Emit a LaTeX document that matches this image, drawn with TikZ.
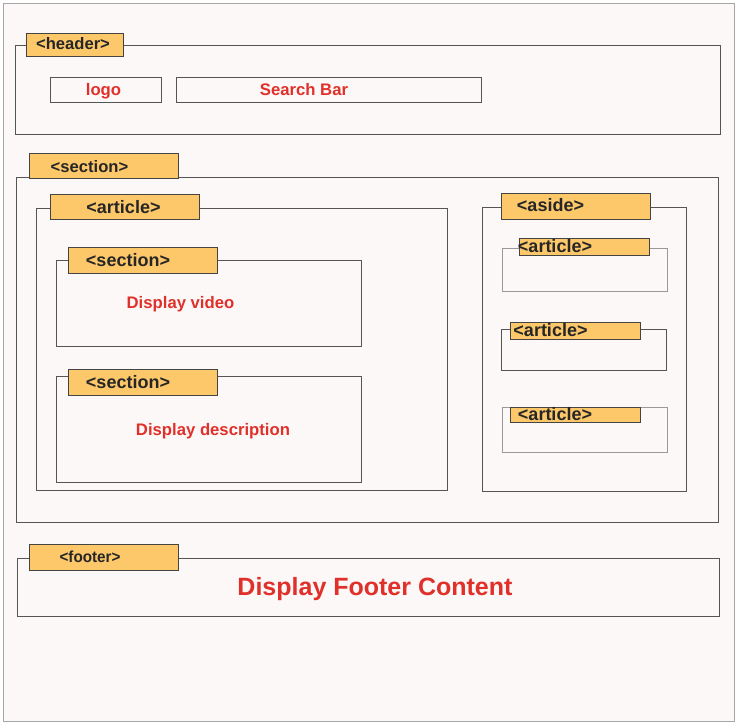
\documentclass[tikz,border=0pt]{standalone}
\usepackage{fontspec}
\setmainfont{Liberation Sans}
\definecolor{bg}{HTML}{FDF8F8}
\definecolor{tabfill}{HTML}{FDC86A}
\definecolor{linegray}{HTML}{555555}
\definecolor{redtxt}{HTML}{E0302A}
\begin{document}
\begin{tikzpicture}[x=1pt,y=-1pt,
  box/.style={draw=linegray, line width=0.9pt, rectangle, inner sep=0pt, anchor=north west},
  tabbox/.style={draw=linegray!80!black, fill=tabfill, line width=0.9pt, rectangle, inner sep=0pt, anchor=north west},
  tag/.style={font=\bfseries\fontsize{18}{20}\selectfont, text=black!85, inner sep=0pt, anchor=base},
  smalltag/.style={font=\bfseries\fontsize{16.6}{19}\selectfont, text=black!85, inner sep=0pt, anchor=base},
  red/.style={font=\bfseries\fontsize{16.7}{19}\selectfont, text=redtxt, inner sep=0pt, anchor=base}
]
\useasboundingbox (0,0) rectangle (738,725);
\node[box, draw=gray!70, fill=bg, minimum width=731pt, minimum height=718pt] (page) at (3,3) {};

% header
\node[box, minimum width=705pt, minimum height=89pt] (header) at (15,45) {};
\node[tabbox, minimum width=97pt, minimum height=23pt] (headertab) at (26,33) {};
\node[smalltag] (headertxt) at (73,50) {<header>};
\node[box, minimum width=111pt, minimum height=25pt] (logo) at (50,77) {};
\node[red] (logotxt) at (103.5,95) {logo};
\node[box, minimum width=305pt, minimum height=25pt] (search) at (176,77) {};
\node[red] (searchtxt) at (304,95) {Search Bar};

% main section
\node[box, minimum width=702pt, minimum height=345pt] (section) at (16,177) {};
\node[tabbox, minimum width=149pt, minimum height=25pt] (sectiontab) at (29,153) {};
\node[smalltag] (sectiontxt) at (89.5,172) {<section>};

% article
\node[box, minimum width=411pt, minimum height=282pt] (article) at (36,208) {};
\node[tabbox, minimum width=149pt, minimum height=25pt] (articletab) at (50,194) {};
\node[tag] (articletxt) at (123.5,213) {<article>};

% inner section 1
\node[box, minimum width=305pt, minimum height=86pt] (sec1) at (56,260) {};
\node[tabbox, minimum width=149pt, minimum height=26pt] (sec1tab) at (68,247) {};
\node[tag] (sec1txt) at (128,266) {<section>};
\node[red] (videotxt) at (180.5,308) {Display video};

% inner section 2
\node[box, minimum width=305pt, minimum height=106pt] (sec2) at (56,376) {};
\node[tabbox, minimum width=149pt, minimum height=26pt] (sec2tab) at (68,369) {};
\node[tag] (sec2txt) at (128,388) {<section>};
\node[red] (desctxt) at (213,435) {Display description};

% aside
\node[box, minimum width=204pt, minimum height=284pt] (aside) at (482,207) {};
\node[tabbox, minimum width=149pt, minimum height=26pt] (asidetab) at (501,193) {};
\node[tag] (asidetxt) at (550.5,211) {<aside>};

\node[box, draw=gray!80, minimum width=165pt, minimum height=43pt] (aart1) at (502,248) {};
\node[tabbox, minimum width=130pt, minimum height=17pt] (aart1tab) at (519,238) {};
\node[tag] (aart1txt) at (555,252) {<article>};

\node[box, minimum width=165pt, minimum height=41pt] (aart2) at (501,329) {};
\node[tabbox, minimum width=130pt, minimum height=17pt] (aart2tab) at (510,322) {};
\node[tag] (aart2txt) at (550.5,336) {<article>};

\node[box, draw=gray!80, minimum width=165pt, minimum height=45pt] (aart3) at (502,407) {};
\node[tabbox, minimum width=130pt, minimum height=15pt] (aart3tab) at (510,407) {};
\node[tag] (aart3txt) at (555,420) {<article>};

% footer
\node[box, minimum width=702pt, minimum height=58pt] (footer) at (17,558) {};
\node[tabbox, minimum width=149pt, minimum height=26pt] (footertab) at (29,544) {};
\node[font=\fontsize{16}{18}\selectfont\bfseries, text=black!85, inner sep=0pt, anchor=base, xscale=0.95] (footertxt) at (90,562) {<footer>};
\node[font=\bfseries\fontsize{25}{28}\selectfont, text=redtxt, inner sep=0pt, anchor=base] (footercontent) at (375,595) {Display Footer Content};
\end{tikzpicture}
\end{document}
